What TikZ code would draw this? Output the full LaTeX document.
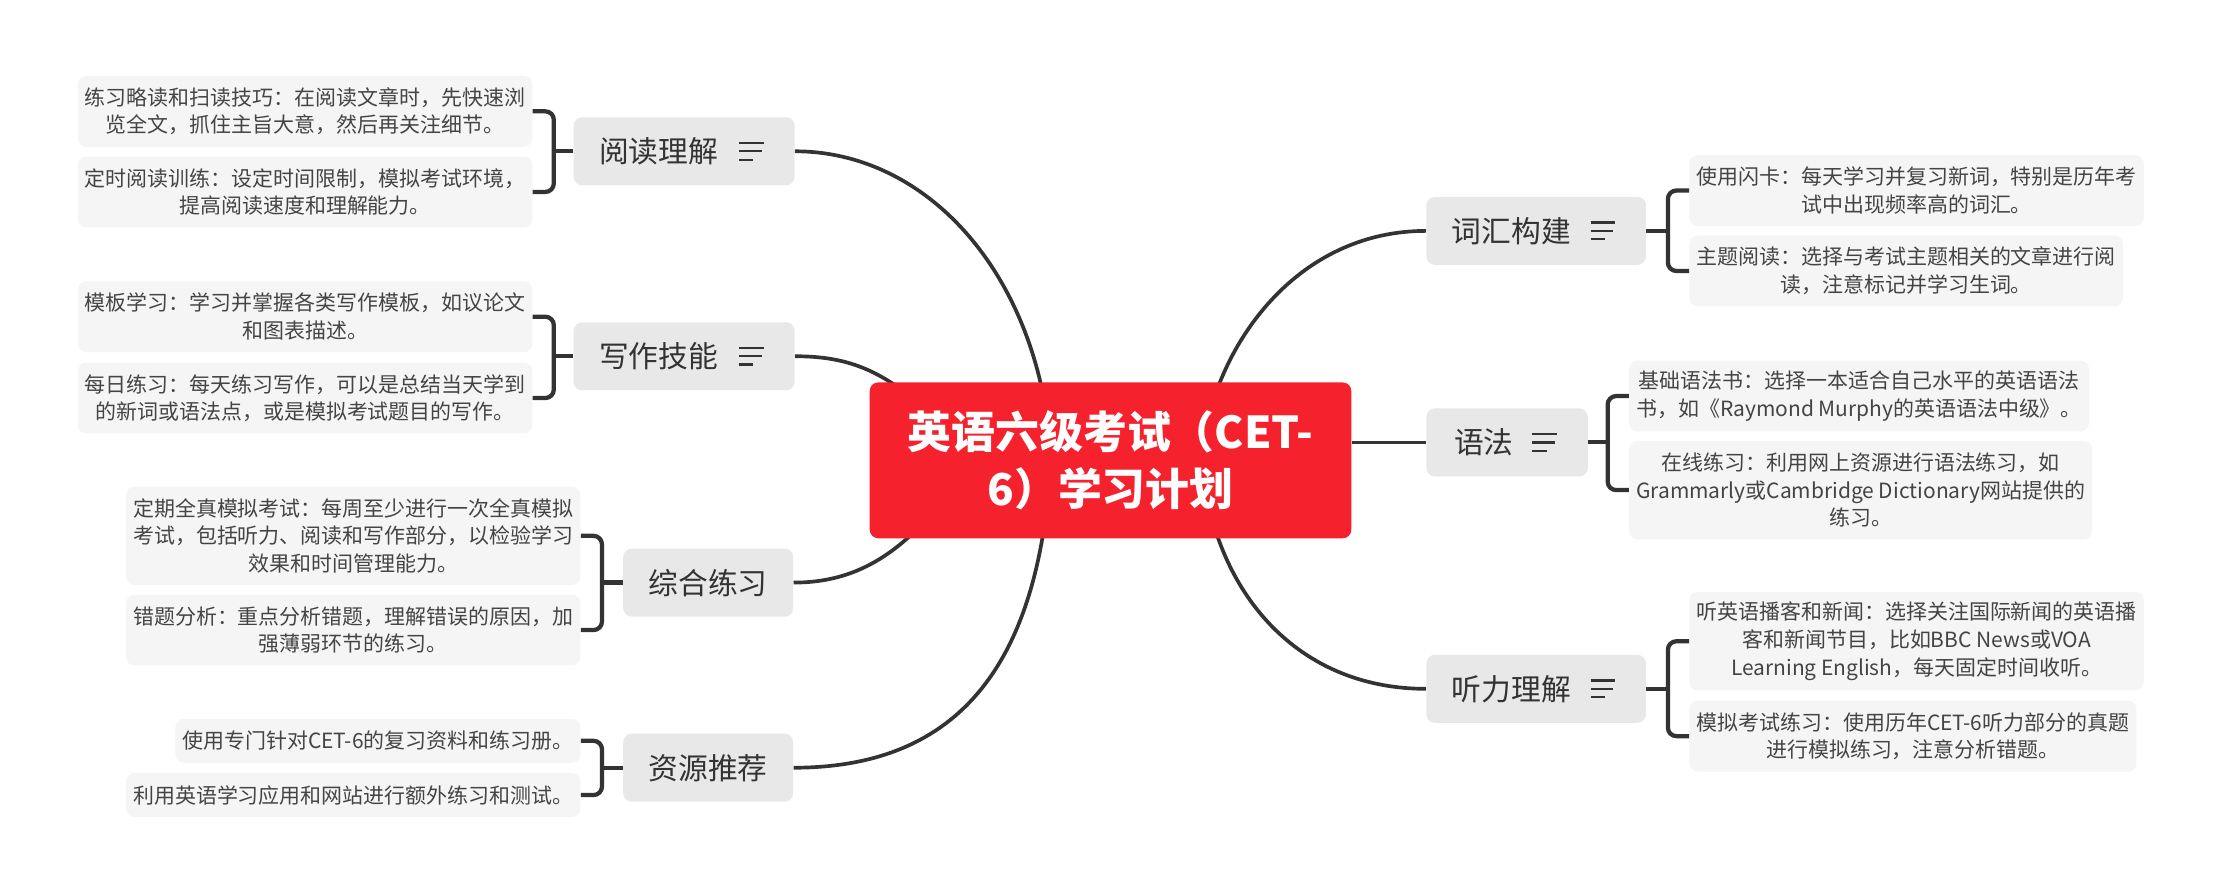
\documentclass[tikz,border=0pt]{standalone}
\usepackage{fontspec}
\setmainfont{Noto Sans CJK SC}
\usetikzlibrary{calc,backgrounds}
\definecolor{redc}{RGB}{245,33,45}
\definecolor{branchfill}{RGB}{232,232,232}
\definecolor{leaffill}{RGB}{245,245,245}
\definecolor{linec}{RGB}{51,51,51}
\definecolor{textdark}{RGB}{51,51,51}
\definecolor{textleaf}{RGB}{68,68,68}
\tikzset{
  branch/.style={fill=branchfill, rounded corners=6pt, minimum height=48pt, inner ysep=2pt, inner xsep=18pt, font=\fontsize{21}{25}\selectfont, text=textdark},
  leaf/.style={fill=leaffill, rounded corners=6pt, align=center, inner xsep=5pt, inner ysep=2pt, font=\fontsize{14.8}{19.5}\selectfont, text=textleaf},
  leafone/.style={leaf, minimum height=31pt},
  leaftwo/.style={leaf, minimum height=50pt},
  leafthree/.style={leaf, minimum height=69.5pt},
  centerbox/.style={fill=redc, rounded corners=6pt, minimum width=340pt, minimum height=110pt, text=white, align=center, font=\bfseries\fontsize{31}{40}\selectfont},
  bracket/.style={draw=linec, line width=3pt, rounded corners=6pt},
  conn/.style={draw=linec, line width=2.6pt},
  iconline/.style={draw=linec, line width=1.6pt}
}
\newcommand\menuicon[1]{%
  \draw[iconline] ($(#1.east)+(-39.3,-5.9)$) -- ++(17.5,0);
  \draw[iconline] ($(#1.east)+(-39.3,0)$) -- ++(16,0);
  \draw[iconline] ($(#1.east)+(-39.3,5.9)$) -- ++(10,0);
}
\begin{document}
\begin{tikzpicture}[x=1pt,y=-1pt]
\useasboundingbox (0,0) rectangle (1568,629.7);
% central
\node[centerbox] (c) at (784,325) {英语六级考试（CET-\\6）学习计划};
% branches
\node[branch] (b1) at (483,106.8) {\makebox[120pt][l]{阅读理解}};
\node[branch] (b2) at (483,251.5) {\makebox[120pt][l]{写作技能}};
\node[branch, minimum width=120pt] (b3) at (500,411.3) {综合练习};
\node[branch, minimum width=120pt] (b4) at (500,542) {资源推荐};
\node[branch] (b5) at (1084.5,163) {\makebox[119pt][l]{词汇构建}};
\node[branch, inner xsep=19.5pt] (b6) at (1064,312.3) {\makebox[75pt][l]{语法}};
\node[branch] (b7) at (1084.5,486.3) {\makebox[119pt][l]{听力理解}};
\menuicon{b1}
\menuicon{b2}
\menuicon{b5}
\menuicon{b6}
\menuicon{b7}
% leaves left
\node[leaftwo, anchor=east] (l1) at (376,78.6) {练习略读和扫读技巧：在阅读文章时，先快速浏\\览全文，抓住主旨大意，然后再关注细节。};
\node[leaftwo, anchor=east] (l2) at (376,135.5) {定时阅读训练：设定时间限制，模拟考试环境，\\提高阅读速度和理解能力。};
\node[leaftwo, anchor=east] (w1) at (376,223.6) {模板学习：学习并掌握各类写作模板，如议论文\\和图表描述。};
\node[leaftwo, anchor=east] (w2) at (376,281) {每日练习：每天练习写作，可以是总结当天学到\\的新词或语法点，或是模拟考试题目的写作。};
\node[leafthree, anchor=east] (s1) at (410,378.3) {定期全真模拟考试：每周至少进行一次全真模拟\\考试，包括听力、阅读和写作部分，以检验学习\\效果和时间管理能力。};
\node[leaftwo, anchor=east] (s2) at (410,444.8) {错题分析：重点分析错题，理解错误的原因，加\\强薄弱环节的练习。};
\node[leafone, anchor=east] (r1) at (410,523) {使用专门针对CET-6的复习资料和练习册。};
\node[leafone, anchor=east] (r2) at (410,561.3) {利用英语学习应用和网站进行额外练习和测试。};
% leaves right
\node[leaftwo, anchor=west] (v1) at (1192.5,134.5) {使用闪卡：每天学习并复习新词，特别是历年考\\试中出现频率高的词汇。};
\node[leaftwo, anchor=west] (v2) at (1192.5,191.3) {主题阅读：选择与考试主题相关的文章进行阅\\读，注意标记并学习生词。};
\node[leaftwo, anchor=west] (g1) at (1150,279.6) {基础语法书：选择一本适合自己水平的英语语法\\书，如《Raymond Murphy的英语语法中级》。};
\node[leafthree, anchor=west] (g2) at (1150,346) {在线练习：利用网上资源进行语法练习，如\\Grammarly或Cambridge Dictionary网站提供的\\练习。};
\node[leafthree, anchor=west] (h1) at (1192.5,452.7) {听英语播客和新闻：选择关注国际新闻的英语播\\客和新闻节目，比如BBC News或VOA\\Learning English，每天固定时间收听。};
\node[leaftwo, anchor=west] (h2) at (1192.5,519.7) {模拟考试练习：使用历年CET-6听力部分的真题\\进行模拟练习，注意分析错题。};
% inner end points of connectors (hidden under central box)
\coordinate (ca) at (740,300);
\coordinate (cb) at (660,295);
\coordinate (cc) at (660,360);
\coordinate (cd) at (740,350);
\coordinate (ce) at (852,300);
\coordinate (cg) at (852,350);
% brackets
\coordinate (xl1) at ($(l1.east)+(15,0)$);
\coordinate (xs1) at ($(s1.east)+(15,0)$);
\coordinate (xv1) at ($(v1.west)+(-15,0)$);
\coordinate (xg1) at ($(g1.west)+(-15,0)$);
\draw[bracket] (l1.east) -- (l1.east -| xl1) -- (l2.east -| xl1) -- (l2.east);
\draw[bracket] (b1.west) -- (b1.west -| xl1);
\draw[bracket] (w1.east) -- (w1.east -| xl1) -- (w2.east -| xl1) -- (w2.east);
\draw[bracket] (b2.west) -- (b2.west -| xl1);
\draw[bracket] (s1.east) -- (s1.east -| xs1) -- (s2.east -| xs1) -- (s2.east);
\draw[bracket] (b3.west) -- (b3.west -| xs1);
\draw[bracket] (r1.east) -- (r1.east -| xs1) -- (r2.east -| xs1) -- (r2.east);
\draw[bracket] (b4.west) -- (b4.west -| xs1);
\draw[bracket] (v1.west) -- (v1.west -| xv1) -- (v2.west -| xv1) -- (v2.west);
\draw[bracket] (b5.east) -- (b5.east -| xv1);
\draw[bracket] (g1.west) -- (g1.west -| xg1) -- (g2.west -| xg1) -- (g2.west);
\draw[bracket] (b6.east) -- (b6.east -| xg1);
\draw[bracket] (h1.west) -- (h1.west -| xv1) -- (h2.west -| xv1) -- (h2.west);
\draw[bracket] (b7.east) -- (b7.east -| xv1);
% connectors behind
\begin{scope}[on background layer]
\fill[white] (0,0) rectangle (1568,629.7);
\draw[conn] (b1.east) .. controls (650,106.8) and (725,185) .. (ca);
\draw[conn] (b2.east) .. controls (600,251.5) and (625,262) .. (cb);
\draw[conn] (b3.east) .. controls (600,411.3) and (630,395) .. (cc);
\draw[conn] (b4.east) .. controls (680,542) and (728,465) .. (cd);
\draw[conn] (b5.west) .. controls (920,163) and (866,235) .. (ce);
\draw[conn] (b6.west) -- (b6.west -| c.east);
\draw[conn] (b7.west) .. controls (920,486.3) and (866,425) .. (cg);
\end{scope}
\end{tikzpicture}
\end{document}
